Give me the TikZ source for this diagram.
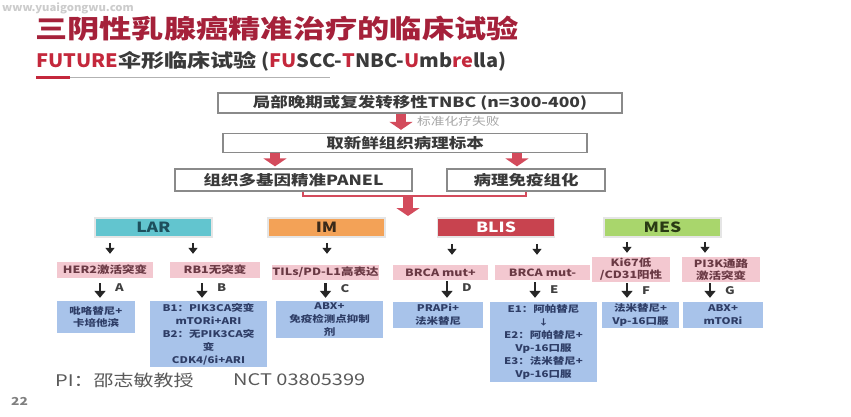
\documentclass[tikz,border=0pt]{standalone}
\usepackage{fontspec}
\setmainfont{Noto Sans CJK SC}[FakeStretch=1.25]
\newfontfamily\subl{Noto Sans CJK SC}[FakeStretch=1.08]
\usetikzlibrary{arrows.meta}
\definecolor{titlered}{HTML}{A5213A}
\definecolor{subred}{HTML}{C4283C}
\definecolor{subgray}{HTML}{3A3A3A}
\definecolor{arrred}{HTML}{D34B5C}
\definecolor{boxgray}{HTML}{8A8A8A}
\definecolor{larc}{HTML}{62C5CF}
\definecolor{imc}{HTML}{F3A257}
\definecolor{blisc}{HTML}{C8434F}
\definecolor{mesc}{HTML}{A9D66C}
\definecolor{pinkf}{HTML}{F3C8D0}
\definecolor{bluef}{HTML}{A8C3EA}
\definecolor{pinkt}{HTML}{6A3944}
\definecolor{bluet}{HTML}{2E3D66}
\definecolor{lart}{HTML}{1D4F5C}
\definecolor{imt}{HTML}{3A2A1A}
\definecolor{mest}{HTML}{2A3A14}
\begin{document}
\begin{tikzpicture}[x=1pt,y=-1pt,
 mainbox/.style={draw=boxgray,line width=1.3pt,fill=white,inner sep=0pt,font=\bfseries\fontsize{14}{16}\selectfont,text=subgray},
 typebox/.style={draw=gray!20,line width=1.5pt,minimum width=117pt,minimum height=19pt,inner sep=0pt,font=\bfseries\fontsize{14}{16}\selectfont},
 pinkbox/.style={fill=pinkf,inner sep=0pt,text=pinkt,font=\bfseries\fontsize{10}{12}\selectfont,align=center},
 bluebox/.style={fill=bluef,inner sep=0pt,text=bluet,font=\bfseries\fontsize{9.2}{13}\selectfont,align=center},
 bigarr/.style={draw=arrred,line width=10pt,-{Triangle[width=23pt,length=8pt]}},
 sarr/.style={draw=black!85,line width=1.8pt,-{Triangle[width=9pt,length=6pt]}},
 marr/.style={draw=black!85,line width=2.4pt,-{Triangle[width=11pt,length=7pt]}},
 lbl/.style={font=\bfseries\fontsize{10.5}{12}\selectfont,text=black!75,inner sep=0pt,anchor=west}
]
\useasboundingbox (0,0) rectangle (851,416);
\fill[white] (0,0) rectangle (851,416);

% watermark, titles
\node[anchor=base west,inner sep=0pt,text=gray!40,font=\bfseries\subl\fontsize{10.5}{11}\selectfont] (wm) at (2,11.5) {www.yuaigongwu.com};
\node[anchor=west,inner sep=0pt,text=titlered,font=\bfseries\fontsize{25.8}{30}\selectfont] (title) at (35,29) {三阴性乳腺癌精准治疗的临床试验};
\node[anchor=west,inner sep=0pt,text=subgray,font=\bfseries\subl\fontsize{18.5}{22}\selectfont] (subtitle) at (36,61)
 {{\color{subred}FUTURE}{\rmfamily 伞形临床试验} ({\color{subred}FU}SCC-{\color{subred}T}NBC-{\color{subred}U}mb{\color{subred}re}lla)};
\draw[gray!60,line width=1.2pt] (70,77.5) -- (330,77.5);
\draw[subred,line width=3pt] (36,77.5) -- (70,77.5);

% main flow
\node[mainbox,minimum width=404pt,minimum height=20pt] (box1) at (420,103) {局部晚期或复发转移性TNBC (n=300-400)};
\node[mainbox,minimum width=364pt,minimum height=19pt] (box2) at (405,143) {取新鲜组织病理标本};
\node[mainbox,minimum width=237pt,minimum height=22pt] (box3) at (293.5,180) {组织多基因精准PANEL};
\node[mainbox,minimum width=158pt,minimum height=22pt] (box4) at (526,180) {病理免疫组化};

\draw[bigarr,shorten >=3pt] ([xshift=-4pt]box2.north |- box1.south) -- ([xshift=-4pt]box2.north);
\node[anchor=west,inner sep=0pt,text=gray!70,font=\fontsize{11}{12}\selectfont] (fail) at (417,121) {标准化疗失败};
\draw[bigarr,shorten >=2pt] ([xshift=-18.5pt]box3.north |- box2.south) -- ([xshift=-18.5pt]box3.north);
\draw[bigarr,shorten >=2pt] ([xshift=-9pt]box4.north |- box2.south) -- ([xshift=-9pt]box4.north);

\draw[arrred,line width=2pt] ([xshift=9.5pt]box3.south) -- ++(0,4.5) -| (box4.south);
\coordinate (brk) at (408,196);
\coordinate (split) at (408,216);
\draw[bigarr] (brk) -- (split);

% subtype boxes
\node[typebox,fill=larc,text=lart] (lar) at (153.5,227.5) {LAR};
\node[typebox,fill=imc,text=imt] (im) at (326.5,227.5) {IM};
\node[typebox,fill=blisc,text=white] (blis) at (496,227.5) {BLIS};
\node[typebox,fill=mesc,text=mest] (mes) at (662.5,227.5) {MES};

% pink boxes
\node[pinkbox,minimum width=96pt,minimum height=16pt] (her2) at (105,270) {HER2激活突变};
\node[pinkbox,minimum width=90pt,minimum height=16pt] (rb1) at (215,270) {RB1无突变};
\node[pinkbox,minimum width=105pt,minimum height=15pt] (tils) at (325.5,272.5) {TILs/PD-L1高表达};
\node[pinkbox,minimum width=95pt,minimum height=15pt] (brcap) at (440.5,272.5) {BRCA mut+};
\node[pinkbox,minimum width=95pt,minimum height=15pt] (brcam) at (542.5,272.5) {BRCA mut-};
\node[pinkbox,minimum width=78pt,minimum height=25pt] (ki67) at (631,269.5) {Ki67低\\/CD31阳性};
\node[pinkbox,minimum width=78pt,minimum height=25pt] (pi3k) at (721,269.5) {PI3K通路\\激活突变};

% blue boxes
\node[bluebox,minimum width=78pt,minimum height=32pt] (ba) at (96,317) {吡咯替尼+\\卡培他滨};
\node[bluebox,minimum width=117pt,minimum height=66pt] (bb) at (208.5,334) {B1：PIK3CA突变\\mTORi+ARI\\B2：无PIK3CA突\\变\\CDK4/6i+ARI};
\node[bluebox,minimum width=107pt,minimum height=37pt] (bc) at (329.5,319.5) {ABX+\\免疫检测点抑制\\剂};
\node[bluebox,minimum width=90pt,minimum height=26pt] (bd) at (438,315) {PRAPi+\\法米替尼};
\node[bluebox,minimum width=107pt,minimum height=80pt] (be) at (543.5,342) {E1：阿帕替尼\\{\fontsize{8}{13}\selectfont ↓}\\E2：阿帕替尼+\\Vp-16口服\\E3：法米替尼+\\Vp-16口服};
\node[bluebox,minimum width=77pt,minimum height=26pt] (bf) at (640.5,315) {法米替尼+\\Vp-16口服};
\node[bluebox,minimum width=80pt,minimum height=26pt] (bg) at (723,315) {ABX+\\mTORi};

% first-level arrows
\draw[sarr,shorten <=5pt,shorten >=8pt] ([xshift=5pt]her2.north |- lar.south) -- ([xshift=5pt]her2.north);
\draw[sarr,shorten <=5pt,shorten >=8pt] ([xshift=-22pt]rb1.north |- lar.south) -- ([xshift=-22pt]rb1.north);
\draw[sarr,shorten <=5pt,shorten >=11pt] ([xshift=1.5pt]tils.north |- im.south) -- ([xshift=1.5pt]tils.north);
\draw[sarr,shorten <=6pt,shorten >=10pt] ([xshift=11.5pt]brcap.north |- blis.south) -- ([xshift=11.5pt]brcap.north);
\draw[sarr,shorten <=6pt,shorten >=10pt] ([xshift=-5.5pt]brcam.north |- blis.south) -- ([xshift=-5.5pt]brcam.north);
\draw[sarr,shorten <=4pt,shorten >=4pt] ([xshift=-4pt]ki67.north |- mes.south) -- ([xshift=-4pt]ki67.north);
\draw[sarr,shorten <=4pt,shorten >=4pt] ([xshift=-16pt]pi3k.north |- mes.south) -- ([xshift=-16pt]pi3k.north);

% second-level arrows
\draw[marr,shorten <=5pt,shorten >=3pt] ([xshift=-5pt]her2.south) -- ([xshift=-5pt]her2.south |- ba.north) node[lbl,pos=0.4,xshift=14pt] (la) {A};
\draw[marr,shorten <=5pt,shorten >=3pt] ([xshift=-13pt]rb1.south) -- ([xshift=-13pt]rb1.south |- bb.north) node[lbl,pos=0.4,xshift=14pt] (lb) {B};
\draw[marr,shorten <=3pt,shorten >=3pt] (tils.south) -- (tils.south |- bc.north) node[lbl,pos=0.4,xshift=14pt] (lc) {C};
\draw[marr,shorten <=1pt,shorten >=4pt] ([xshift=6.5pt]brcap.south) -- ([xshift=6.5pt]brcap.south |- bd.north) node[lbl,pos=0.35,xshift=14pt] (ld) {D};
\draw[marr,shorten <=2pt,shorten >=4pt] ([xshift=-7.5pt]brcam.south) -- ([xshift=-7.5pt]brcam.south |- be.north) node[lbl,pos=0.45,xshift=14pt] (le) {E};
\draw[marr,shorten <=1pt,shorten >=4pt] ([xshift=-4pt]ki67.south) -- ([xshift=-4pt]ki67.south |- bf.north) node[lbl,pos=0.45,xshift=14pt] (lf) {F};
\draw[marr,shorten <=1pt,shorten >=4pt] ([xshift=-11pt]pi3k.south) -- ([xshift=-11pt]pi3k.south |- bg.north) node[lbl,pos=0.45,xshift=14pt] (lg) {G};

% footer
\node[anchor=west,inner sep=0pt,text=black!65,font=\fontsize{16}{18}\selectfont] (pi) at (55,380) {PI：邵志敏教授};
\node[anchor=west,inner sep=0pt,text=black!65,font=\fontsize{16}{18}\selectfont] (nct) at (233,380) {NCT 03805399};
\node[anchor=west,inner sep=0pt,text=black!50,font=\bfseries\fontsize{11}{12}\selectfont] (pg) at (11,401) {22};
\end{tikzpicture}
\end{document}
